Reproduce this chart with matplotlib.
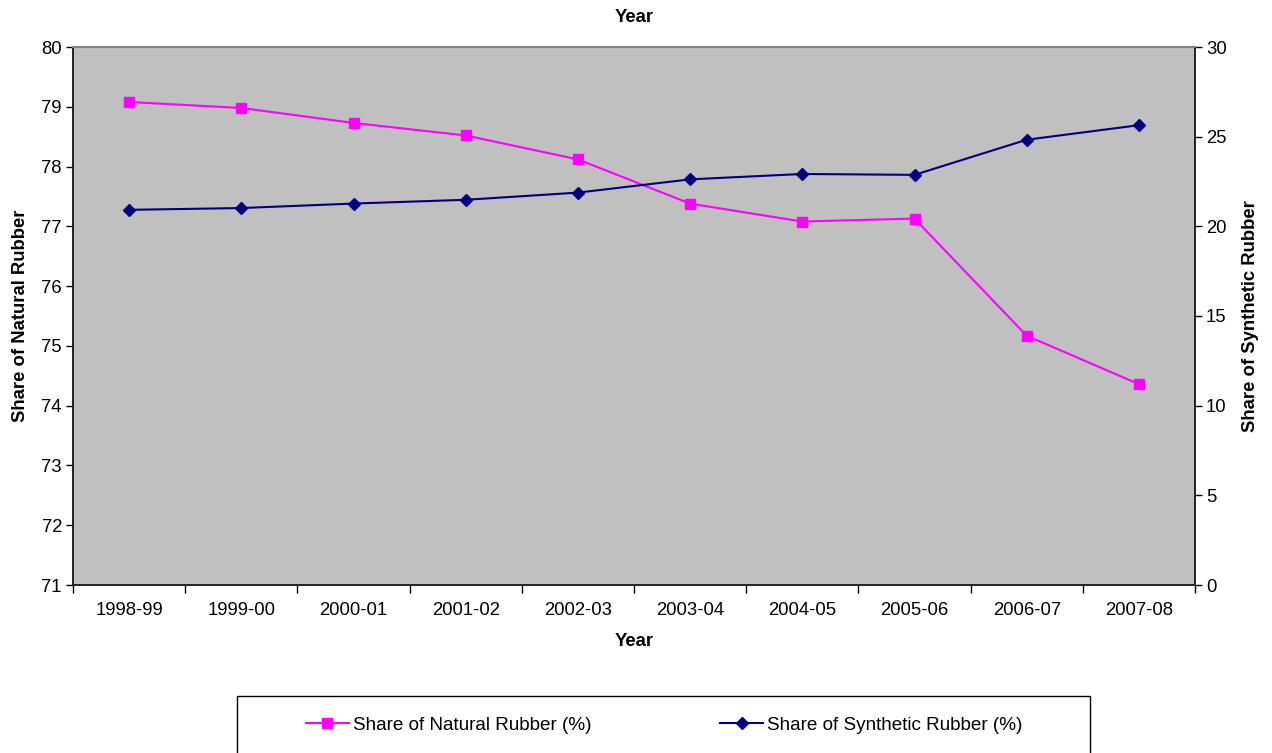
import matplotlib
matplotlib.use("Agg")
import matplotlib.pyplot as plt
from matplotlib.patches import Rectangle

plt.rcParams['font.family'] = ['Liberation Sans', 'DejaVu Sans']

years = ['1998-99', '1999-00', '2000-01', '2001-02', '2002-03',
         '2003-04', '2004-05', '2005-06', '2006-07', '2007-08']
natural = [79.08, 78.98, 78.73, 78.52, 78.12, 77.38, 77.08, 77.13, 75.17, 74.36]
synthetic = [20.92, 21.02, 21.27, 21.48, 21.88, 22.62, 22.92, 22.87, 24.83, 25.64]

W, H = 1272, 753
fs = 13.3
fig = plt.figure(figsize=(W / 100, H / 100), dpi=100)
ax = fig.add_axes([73 / W, 1 - 585 / H, (1195 - 73) / W, 538 / H])
ax.set_facecolor('#C0C0C0')
ax2 = ax.twinx()

x = list(range(len(years)))
ln1, = ax.plot(x, natural, color='#FF00FF', lw=1.5, marker='s', ms=7.5,
               label='Share of Natural Rubber (%)')
ln2, = ax2.plot(x, synthetic, color='#000080', lw=1.5, marker='D', ms=6.5,
                label='Share of Synthetic Rubber (%)')

ax.set_xlim(-0.5, len(years) - 0.5)
ax.set_ylim(71, 80)
ax.set_yticks(range(71, 81))
ax2.set_ylim(0, 30)
ax2.set_yticks(range(0, 31, 5))

ax.set_xticks(x)
ax.set_xticklabels(years)
ax.set_xticks([i - 0.5 for i in range(len(years) + 1)], minor=True)
ax.tick_params(axis='x', which='major', length=0, pad=12, labelsize=fs)
ax.tick_params(axis='x', which='minor', length=6, width=1, direction='out')
ax.tick_params(axis='y', length=5, width=1, direction='out', pad=3, labelsize=fs)
ax2.tick_params(axis='y', length=5, width=1, direction='out', pad=3, labelsize=fs)

for a in (ax, ax2):
    for s in ('left', 'right', 'bottom'):
        a.spines[s].set_color('#222222')
        a.spines[s].set_linewidth(1.2)
    a.spines['top'].set_color('#808080')
    a.spines['top'].set_linewidth(1.5)

ax.set_ylabel('Share of Natural Rubber', fontsize=fs, fontweight='bold', labelpad=9)
ax2.set_ylabel('Share of Synthetic Rubber', fontsize=fs, fontweight='bold', labelpad=11)
ax.set_xlabel('Year', fontsize=fs, fontweight='bold', labelpad=10)
fig.text(0.5 * (73 + 1195) / W, 1 - 17 / H, 'Year', ha='center', va='center',
         fontsize=fs, fontweight='bold')

# legend box runs off the bottom edge, like the original
fig.patches.append(Rectangle((237 / W, -0.02), (1090 - 237) / W, (753 - 696) / H + 0.02,
                             transform=fig.transFigure, fill=False, ec='black', lw=1))
fig.legend(handles=[ln1, ln2], loc='center', ncol=2, frameon=False,
           bbox_to_anchor=(664 / W, 1 - 725 / H), fontsize=13.6,
           handlelength=2.3, handletextpad=0.2, columnspacing=6.8)

fig.savefig('out.png', dpi=100)
